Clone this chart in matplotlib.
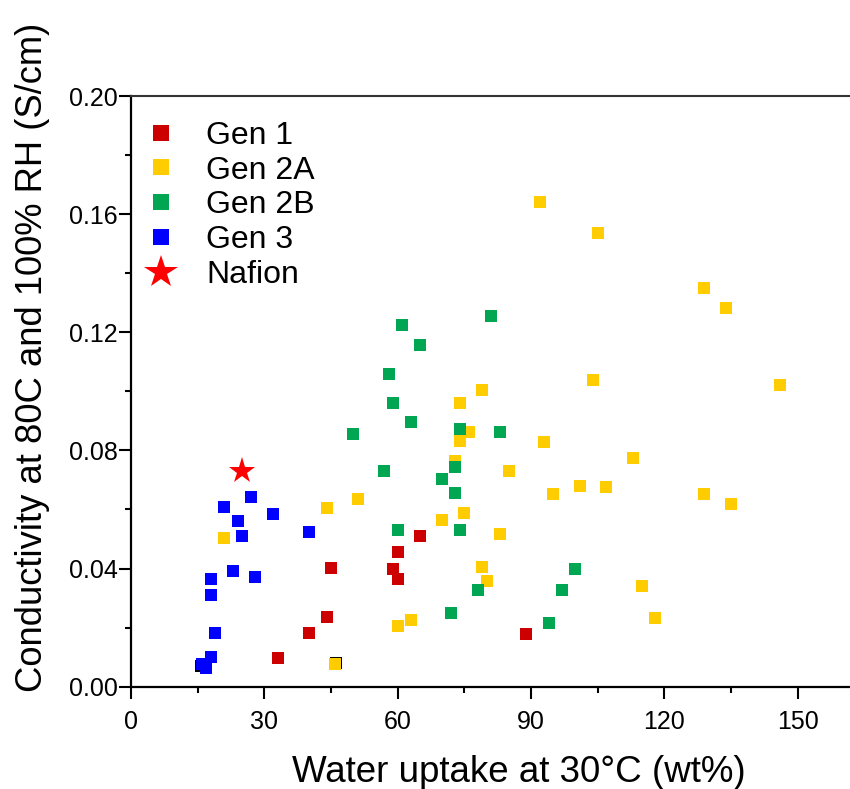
import matplotlib
matplotlib.use("Agg")
import matplotlib.pyplot as plt
from matplotlib.lines import Line2D
from matplotlib.ticker import MultipleLocator, FormatStrFormatter

plt.rcParams['font.family'] = ['Liberation Sans', 'DejaVu Sans']

# water uptake (wt%) vs conductivity (S/cm) for each membrane generation
gen1_x = [33, 40, 44, 45, 59, 60, 60, 65, 89]
gen1_y = [0.0097, 0.0182, 0.0236, 0.0402, 0.0397, 0.0365, 0.0457, 0.0510, 0.0179]

gen2a_x = [21, 44, 51, 46, 60, 63, 74, 79, 76, 74, 73, 75, 70, 79, 80,
           104, 146, 93, 85, 113, 95, 101, 107, 129, 135, 83, 115, 118,
           92, 105, 129, 134]
gen2a_y = [0.0504, 0.0606, 0.0637, 0.0077, 0.0204, 0.0227, 0.0959, 0.1003,
           0.0863, 0.0832, 0.0764, 0.0589, 0.0566, 0.0406, 0.0357,
           0.1037, 0.1020, 0.0830, 0.0729, 0.0774, 0.0654, 0.0680, 0.0675,
           0.0651, 0.0620, 0.0516, 0.0342, 0.0234,
           0.1640, 0.1537, 0.1351, 0.1281]

gen2b_x = [61, 65, 58, 81, 59, 63, 50, 74, 57, 73, 70, 73, 60, 74, 78, 72,
           83, 100, 97, 94]
gen2b_y = [0.1226, 0.1157, 0.1058, 0.1255, 0.0959, 0.0897, 0.0857, 0.0873,
           0.0730, 0.0743, 0.0704, 0.0655, 0.0532, 0.0529, 0.0329, 0.0250,
           0.0863, 0.0400, 0.0329, 0.0216]

gen3_x = [27, 21, 24, 25, 32, 40, 23, 28, 18, 18, 19, 18, 16, 16.8]
gen3_y = [0.0642, 0.0610, 0.0560, 0.0510, 0.0586, 0.0523, 0.0392, 0.0372,
          0.0365, 0.0310, 0.0182, 0.0099, 0.0077, 0.0062]

other_x = [15.8, 46.2]
other_y = [0.0071, 0.0080]

nafion_x = [25]
nafion_y = [0.073]

W, H, DPI = 850, 789, 100
fig = plt.figure(figsize=(W / DPI, H / DPI), dpi=DPI)
ax = fig.add_axes([131 / W, 1 - 686.7 / H, 1 - 131 / W, (686.7 - 96) / H])

sq = dict(marker='s', linestyle='none', markersize=9, markeredgewidth=0)
ax.plot(other_x, other_y, color='black', **sq)
ax.plot(gen1_x, gen1_y, color='#CC0000', **sq)
ax.plot(gen2a_x, gen2a_y, color='#FFCC00', **sq)
ax.plot(gen2b_x, gen2b_y, color='#00A651', **sq)
ax.plot(gen3_x, gen3_y, color='#0000FF', **sq)
ax.plot(nafion_x, nafion_y, marker='*', linestyle='none', color='#FF0000',
        markersize=20, markeredgewidth=0)

ax.set_xlim(0, 161.8)
ax.set_ylim(0, 0.20)
ax.xaxis.set_major_locator(MultipleLocator(30))
ax.xaxis.set_minor_locator(MultipleLocator(15))
ax.yaxis.set_major_locator(MultipleLocator(0.04))
ax.yaxis.set_minor_locator(MultipleLocator(0.02))
ax.yaxis.set_major_formatter(FormatStrFormatter('%.2f'))

ax.tick_params(which='major', direction='out', length=8.5, width=1.5,
               labelsize=18, colors='black')
ax.tick_params(which='minor', direction='out', length=4, width=1.5)
ax.tick_params(axis='x', which='major', pad=8)
ax.tick_params(axis='y', which='major', pad=1)

for side in ('left', 'bottom'):
    ax.spines[side].set_linewidth(1.6)
ax.spines['top'].set_linewidth(1.5)
ax.spines['top'].set_color('#333333')
ax.spines['right'].set_visible(False)

ax.set_xlabel('Water uptake at 30°C (wt%)', fontsize=26.5)
ax.set_ylabel('Conductivity at 80C and 100% RH (S/cm)', fontsize=26.2,
              ha='center', va='center')
ax.xaxis.set_label_coords(0.54, -0.115)
ax.yaxis.set_label_coords(-0.137, 0.558)

handles = [
    Line2D([], [], color='#CC0000', marker='s', linestyle='none', markersize=11.5, markeredgewidth=0),
    Line2D([], [], color='#FFCC00', marker='s', linestyle='none', markersize=11.5, markeredgewidth=0),
    Line2D([], [], color='#00A651', marker='s', linestyle='none', markersize=11.5, markeredgewidth=0),
    Line2D([], [], color='#0000FF', marker='s', linestyle='none', markersize=11.5, markeredgewidth=0),
    Line2D([], [], color='#FF0000', marker='*', linestyle='none', markersize=25, markeredgewidth=0),
]
labels = ['Gen 1', 'Gen 2A', 'Gen 2B', 'Gen 3', 'Nafion']
ax.legend(handles, labels, loc='upper left', bbox_to_anchor=(0.022, 0.958),
          frameon=False, fontsize=23, handlelength=0.9, handletextpad=0.95,
          borderpad=0, borderaxespad=0, labelspacing=0.15)

fig.savefig('out.png', dpi=DPI)
